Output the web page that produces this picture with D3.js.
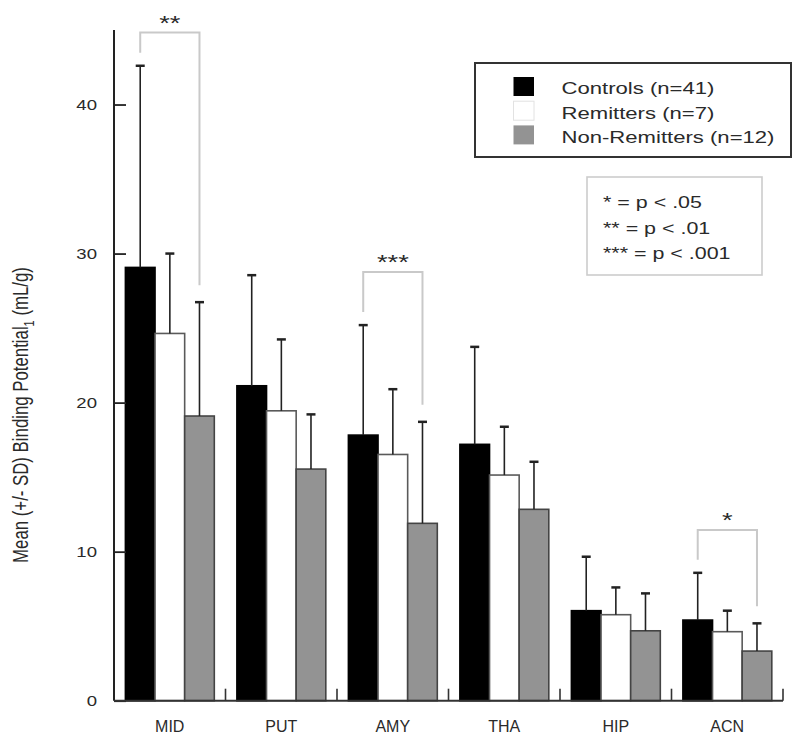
<!DOCTYPE html>
<html>
<head>
<meta charset="utf-8">
<script src="https://cdn.jsdelivr.net/npm/d3@7"></script>
<style>
  html, body { margin: 0; padding: 0; background: #fff; }
  svg { display: block; }
  text { font-family: "Liberation Sans", Arial, Helvetica, sans-serif; fill: #2a2a2a; }
</style>
</head>
<body>
<svg id="chart" width="800" height="743"></svg>
<script>
// ---------------- DATA ----------------
const categories = ["MID", "PUT", "AMY", "THA", "HIP", "ACN"];
const groupNames = ["Controls (n=41)", "Remitters (n=7)", "Non-Remitters (n=12)"];
const controlsMean = [29.07, 21.13, 17.82, 17.20, 6.04, 5.41];
const controlsSD   = [13.53,  7.42,  7.38,  6.54, 3.62, 3.17];
const remittersMean = [24.64, 19.45, 16.52, 15.14, 5.77, 4.63];
const remittersSD   = [ 5.36,  4.79,  4.38,  3.24, 1.83, 1.41];
const nonRemMean = [19.10, 15.54, 11.90, 12.84, 4.69, 3.33];
const nonRemSD   = [ 7.64,  3.67,  6.81,  3.19, 2.51, 1.86];
const yTicks = [0, 10, 20, 30, 40];
const yLabel = "Mean (+/- SD) Binding Potential";
const yLabelSub = "1";
const yLabelUnit = " (mL/g)";
// significance brackets (Controls vs Non-Remitters)
const sigCategories = ["MID", "AMY", "ACN"];
const sigStars = ["**", "***", "*"];
const sigTop = [44.83, 28.77, 11.45];
const sigNotes = ["* = p < .05", "** = p < .01", "*** = p < .001"];

// ---------------- LAYOUT ----------------
const svg = d3.select("#chart");
const plotLeft = 114, plotRight = 783, plotBottom = 700.7, plotTop = 30;
const STRETCH = 1.3;

const groupFill = ["#000000", "#ffffff", "#939393"];
const groupStroke = ["#000000", "#5a5a5a", "#444444"];
const means = [controlsMean, remittersMean, nonRemMean];
const sds = [controlsSD, remittersSD, nonRemSD];

const x = d3.scaleBand().domain(categories).range([plotLeft, plotRight]).paddingInner(0).paddingOuter(0);
const xg = d3.scaleBand().domain([0, 1, 2]).range([11.4, x.bandwidth() - 11.2]).padding(0);
const y = d3.scaleLinear().domain([0, 45]).range([plotBottom, plotTop]);

// ---------------- BARS ----------------
const rows = [];
categories.forEach((c, i) => {
  [0, 1, 2].forEach(g => rows.push({ cat: c, g, mean: means[g][i], sd: sds[g][i] }));
});

const barG = svg.append("g");
barG.selectAll("rect").data(rows).join("rect")
  .attr("x", d => x(d.cat) + xg(d.g))
  .attr("y", d => y(d.mean))
  .attr("width", xg.bandwidth())
  .attr("height", d => y(0) - y(d.mean))
  .attr("fill", d => groupFill[d.g])
  .attr("stroke", d => groupStroke[d.g])
  .attr("stroke-width", 1.6);

// error bars (upper only)
const errG = svg.append("g").attr("stroke", "#222");
errG.selectAll("line.err").data(rows).join("line").attr("class", "err")
  .attr("x1", d => x(d.cat) + xg(d.g) + xg.bandwidth() / 2)
  .attr("x2", d => x(d.cat) + xg(d.g) + xg.bandwidth() / 2)
  .attr("y1", d => y(d.mean))
  .attr("y2", d => y(d.mean + d.sd))
  .attr("stroke-width", 1.6);
errG.selectAll("line.cap").data(rows).join("line").attr("class", "cap")
  .attr("x1", d => x(d.cat) + xg(d.g) + xg.bandwidth() / 2 - 4.5)
  .attr("x2", d => x(d.cat) + xg(d.g) + xg.bandwidth() / 2 + 4.5)
  .attr("y1", d => y(d.mean + d.sd))
  .attr("y2", d => y(d.mean + d.sd))
  .attr("stroke-width", 2.5);

// ---------------- AXES ----------------
const yAxis = d3.axisLeft(y).tickValues(yTicks).tickSizeInner(-12).tickSizeOuter(0).tickPadding(17).tickFormat(d3.format("d"));
const yAxisG = svg.append("g").attr("transform", `translate(${plotLeft},0)`).call(yAxis);
yAxisG.select(".domain").remove();
yAxisG.selectAll(".tick line").attr("stroke", "#222").attr("stroke-width", 1.8);
yAxisG.selectAll(".tick text")
  .attr("x", null)
  .attr("transform", `translate(-17,0) scale(1.28,1)`)
  .attr("font-size", 14.5)
  .attr("fill", "#333");
svg.append("line").attr("x1", plotLeft).attr("x2", plotLeft).attr("y1", y(45)).attr("y2", y(0))
  .attr("stroke", "#222").attr("stroke-width", 2);

// x axis: labels centered in bands, ticks at band boundaries
const xAxis = d3.axisBottom(x).tickSize(0).tickPadding(0);
const xAxisG = svg.append("g").attr("transform", `translate(0,${plotBottom})`).call(xAxis);
xAxisG.select(".domain").remove();
xAxisG.selectAll(".tick text")
  .attr("y", 31).attr("dy", null)
  .attr("font-size", 16)
  .attr("fill", "#333");
svg.append("line").attr("x1", plotLeft).attr("x2", plotRight).attr("y1", y(0)).attr("y2", y(0))
  .attr("stroke", "#333").attr("stroke-width", 2);
svg.append("g").selectAll("line").data(categories).join("line")
  .attr("x1", d => x(d) + x.bandwidth()).attr("x2", d => x(d) + x.bandwidth())
  .attr("y1", y(0)).attr("y2", y(0) - 12)
  .attr("stroke", "#333").attr("stroke-width", 1.6);

// y axis title
const yt = svg.append("text")
  .attr("transform", `translate(27.5,415) scale(${STRETCH},1) rotate(-90)`)
  .attr("text-anchor", "middle")
  .attr("font-size", 16.8)
  .attr("fill", "#222");
yt.append("tspan").text(yLabel);
yt.append("tspan").text(yLabelSub).attr("font-size", 11).attr("dy", 5);
yt.append("tspan").text(yLabelUnit).attr("dy", -5);

// ---------------- SIGNIFICANCE BRACKETS ----------------
const sigG = svg.append("g");
sigCategories.forEach((c, k) => {
  const i = categories.indexOf(c);
  const xl = x(c) + xg(0) + xg.bandwidth() / 2;
  const xr = x(c) + xg(2) + xg.bandwidth() / 2;
  const yTop = y(sigTop[k]);
  const yl = y(controlsMean[i] + controlsSD[i]) - 13;
  const yr = y(nonRemMean[i] + nonRemSD[i]) - 17;
  sigG.append("path")
    .attr("d", `M${xl},${yl}V${yTop}H${xr}V${yr}`)
    .attr("fill", "none").attr("stroke", "#c9c9c9").attr("stroke-width", 2);
  sigG.append("text")
    .attr("transform", `translate(${(xl + xr) / 2},${yTop - 3}) scale(${STRETCH},1)`)
    .attr("text-anchor", "middle")
    .attr("font-size", 21)
    .attr("fill", "#333")
    .text(sigStars[k]);
});

// ---------------- LEGEND ----------------
const leg = svg.append("g");
leg.append("rect").attr("x", 475).attr("y", 63).attr("width", 316).attr("height", 94)
  .attr("fill", "#fff").attr("stroke", "#333").attr("stroke-width", 2);
groupNames.forEach((n, g) => {
  leg.append("rect").attr("x", 513.5).attr("y", 77 + g * 24.2).attr("width", 20.5).attr("height", 19)
    .attr("fill", groupFill[g]).attr("stroke", g === 1 ? "#e2e2e2" : "none").attr("stroke-width", 1);
  leg.append("text")
    .attr("transform", `translate(561.5,${94.3 + g * 24.2}) scale(${STRETCH},1)`)
    .attr("font-size", 17)
    .attr("fill", "#333")
    .text(n);
});

// significance note box
const note = svg.append("g");
note.append("rect").attr("x", 587).attr("y", 177).attr("width", 175).attr("height", 98)
  .attr("fill", "#fff").attr("stroke", "#cccccc").attr("stroke-width", 1.6);
sigNotes.forEach((t, k) => {
  note.append("text")
    .attr("transform", `translate(603,${208.3 + k * 25.3}) scale(${STRETCH},1)`)
    .attr("font-size", 16.5)
    .attr("fill", "#333")
    .text(t);
});
</script>
</body>
</html>
